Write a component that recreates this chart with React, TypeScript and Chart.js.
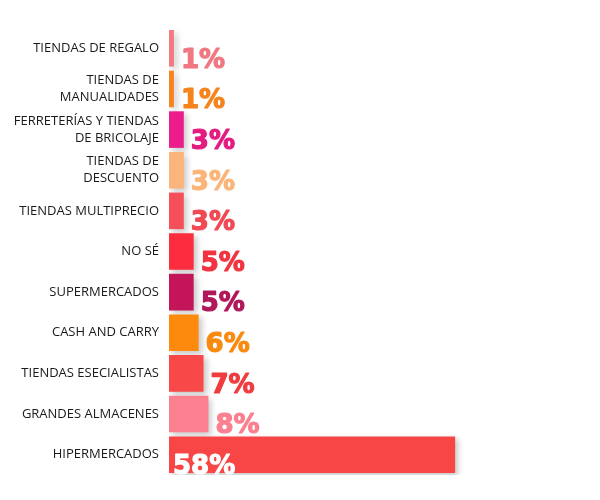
import React, { useEffect, useRef } from "react";
import { Chart, registerables } from "chart.js";

Chart.register(...registerables);

const categories: (string | string[])[] = [
  "TIENDAS DE REGALO",
  ["TIENDAS DE", "MANUALIDADES"],
  ["FERRETERÍAS Y TIENDAS", "DE BRICOLAJE"],
  ["TIENDAS DE", "DESCUENTO"],
  "TIENDAS MULTIPRECIO",
  "NO SÉ",
  "SUPERMERCADOS",
  "CASH AND CARRY",
  "TIENDAS ESECIALISTAS",
  "GRANDES ALMACENES",
  "HIPERMERCADOS",
];

const values: number[] = [1, 1, 3, 3, 3, 5, 5, 6, 7, 8, 58];

const barColors: string[] = [
  "#f27a80",
  "#f7841e",
  "#ec1c8c",
  "#fbb57a",
  "#f5505a",
  "#fb2d3e",
  "#c4145a",
  "#fd8a0c",
  "#f84848",
  "#fc8090",
  "#f84646",
];

const labelColors: string[] = [
  "#f07880",
  "#f5841e",
  "#e41c82",
  "#fbb57a",
  "#f04a55",
  "#f23440",
  "#b0185a",
  "#f98a10",
  "#f03c40",
  "#fa8090",
  "#ffffff",
];

const shadowPlugin = {
  id: "barShadow",
  beforeDatasetsDraw(chart: any) {
    const ctx = chart.ctx;
    ctx.save();
    ctx.shadowColor = "rgba(0,0,0,0.22)";
    ctx.shadowBlur = 6;
    ctx.shadowOffsetX = 3;
    ctx.shadowOffsetY = 3;
  },
  afterDatasetsDraw(chart: any) {
    chart.ctx.restore();
  },
};

const valueLabelPlugin = {
  id: "valueLabels",
  afterDatasetsDraw(chart: any) {
    const ctx = chart.ctx;
    const meta = chart.getDatasetMeta(0);
    ctx.save();
    ctx.font = "bold 26px 'DejaVu Sans', sans-serif";
    ctx.textBaseline = "alphabetic";
    ctx.textAlign = "left";
    ctx.lineJoin = "round";
    ctx.lineWidth = 1.2;
    meta.data.forEach((bar: any, i: number) => {
      const v = values[i];
      const text = v + "%";
      const bottom = bar.y + bar.height / 2;
      const inside = i === values.length - 1;
      const x = inside ? bar.base + 4 : bar.x + 7;
      ctx.fillStyle = labelColors[i];
      ctx.strokeStyle = labelColors[i];
      ctx.fillText(text, x, bottom + 1);
      ctx.strokeText(text, x, bottom + 1);
    });
    ctx.restore();
  },
};

export default function App() {
  const canvasRef = useRef<HTMLCanvasElement | null>(null);

  useEffect(() => {
    if (!canvasRef.current) return;
    const chart = new Chart(canvasRef.current, {
      type: "bar",
      data: {
        labels: categories,
        datasets: [
          {
            data: values,
            backgroundColor: barColors,
            borderWidth: 0,
            barPercentage: 0.9,
            categoryPercentage: 1,
          },
        ],
      },
      options: {
        indexAxis: "y",
        animation: false,
        responsive: true,
        maintainAspectRatio: false,
        layout: { padding: { top: 28, bottom: 25, left: 0, right: 135 } },
        plugins: {
          legend: { display: false },
          tooltip: { enabled: false },
        },
        scales: {
          x: {
            display: false,
            min: 0,
            max: 60,
          },
          y: {
            grid: { display: false },
            border: { display: false },
            afterFit(scale: any) {
              scale.width = 169;
            },
            ticks: {
              padding: 2,
              color: "#1a1a1a",
              font: { family: "'Open Sans', sans-serif", size: 13, lineHeight: 1.3 },
            },
          },
        },
      },
      plugins: [shadowPlugin, valueLabelPlugin],
    });
    return () => chart.destroy();
  }, []);

  return (
    <div style={{ position: "fixed", left: 0, top: 0, width: 600, height: 500, background: "#fff" }}>
      <canvas ref={canvasRef} />
    </div>
  );
}
